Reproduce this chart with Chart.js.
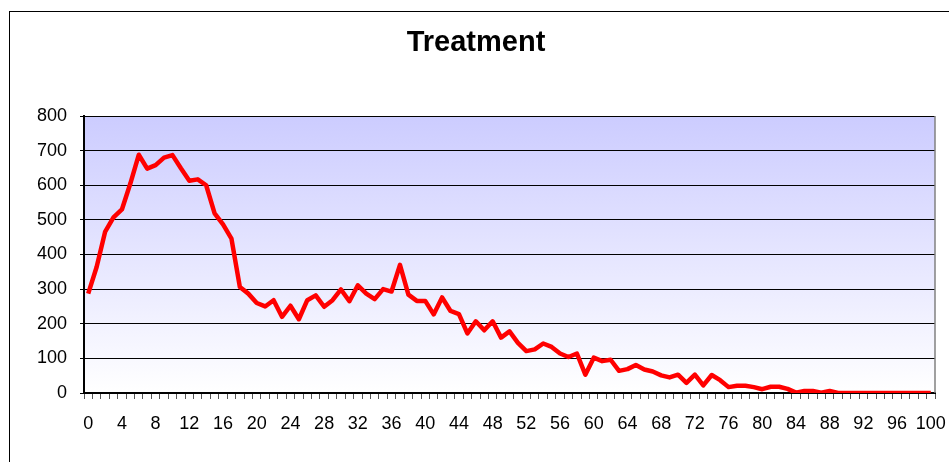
<!DOCTYPE html>
<html>
<head>
<meta charset="utf-8">
<title>Treatment</title>
<script src="https://cdn.jsdelivr.net/npm/chart.js"></script>
<style>
  html, body { margin: 0; padding: 0; background: #fff; overflow: hidden; }
  #frame { position: absolute; left: 9px; top: 11px; width: 1000px; height: 1000px; border: 1px solid #000; }
  #myChart { position: absolute; left: 0; top: 0; }
</style>
</head>
<body>
<div id="frame"></div>
<canvas id="myChart" width="949" height="462"></canvas>
<script>
const ctx = document.getElementById("myChart");

const titulo = "Treatment";

const categorias = [
  "0", "1", "2", "3", "4", "5", "6", "7", "8", "9",
  "10", "11", "12", "13", "14", "15", "16", "17", "18", "19",
  "20", "21", "22", "23", "24", "25", "26", "27", "28", "29",
  "30", "31", "32", "33", "34", "35", "36", "37", "38", "39",
  "40", "41", "42", "43", "44", "45", "46", "47", "48", "49",
  "50", "51", "52", "53", "54", "55", "56", "57", "58", "59",
  "60", "61", "62", "63", "64", "65", "66", "67", "68", "69",
  "70", "71", "72", "73", "74", "75", "76", "77", "78", "79",
  "80", "81", "82", "83", "84", "85", "86", "87", "88", "89",
  "90", "91", "92", "93", "94", "95", "96", "97", "98", "99",
  "100",
];

const valores = [
  287, 364, 465, 507, 530, 605, 688, 648, 658, 680,
  687, 649, 613, 617, 600, 519, 487, 446, 306, 287,
  260, 250, 268, 220, 252, 213, 268, 282, 249, 268,
  299, 265, 311, 287, 271, 300, 293, 370, 284, 266,
  266, 227, 276, 237, 228, 172, 207, 181, 207, 160,
  178, 145, 121, 126, 143, 133, 114, 104, 114, 53,
  102, 92, 96, 64, 69, 81, 68, 62, 51, 45,
  53, 29, 53, 22, 52, 37, 17, 21, 21, 17,
  11, 18, 18, 12, 1, 6, 6, 1, 6, 0,
  0, 0, 0, 0, 0, 0, 0, 0, 0, 0,
  0,
];

// y axis: 0..800 every 100, x labels every 4th category
const yMin = 0;
const yMax = 800;
const yPaso = 100;
const cadaCuantos = 4;

const fuente = "'Liberation Sans', Arial, sans-serif";

// plot area background (gradient), gray right border and the title
const fondo = {
  id: "fondo",
  beforeDraw(chart) {
    const { ctx, chartArea: a } = chart;
    const g = ctx.createLinearGradient(0, a.top, 0, a.bottom);
    g.addColorStop(0, "#ccccff");
    g.addColorStop(1, "#ffffff");
    ctx.save();
    ctx.fillStyle = g;
    ctx.fillRect(a.left, a.top, a.right - a.left, a.bottom - a.top);
    ctx.restore();
  },
  afterDraw(chart) {
    const { ctx, chartArea: a } = chart;
    ctx.save();
    ctx.strokeStyle = "#808080";
    ctx.lineWidth = 1.5;
    ctx.beginPath();
    ctx.moveTo(a.right, a.top);
    ctx.lineTo(a.right, a.bottom);
    ctx.stroke();

    ctx.fillStyle = "#000";
    ctx.font = "bold 29px " + fuente;
    ctx.textAlign = "center";
    ctx.textBaseline = "middle";
    ctx.fillText(titulo, 476, 43);
    ctx.restore();
  },
};

new Chart(ctx, {
  type: "line",
  data: {
    labels: categorias,
    datasets: [
      {
        label: titulo,
        data: valores,
        borderColor: "#ff0000",
        borderWidth: 4.5,
        pointRadius: 0,
        tension: 0,
        borderJoinStyle: "round",
        fill: false,
      },
    ],
  },
  options: {
    responsive: false,
    animation: false,
    layout: { padding: { left: 0, right: 14, top: 116, bottom: 0 } },
    plugins: {
      legend: { display: false },
      tooltip: { enabled: false },
      title: { display: false },
    },
    scales: {
      x: {
        type: "category",
        offset: true,
        grid: {
          offset: true,
          drawOnChartArea: false,
          drawTicks: true,
          tickLength: 6,
          tickColor: "#555",
        },
        border: { display: true, color: "#000", width: 2 },
        ticks: {
          autoSkip: false,
          maxRotation: 0,
          minRotation: 0,
          padding: 14,
          color: "#000",
          font: { family: fuente, size: 18 },
          callback: function (val, i) {
            return i % cadaCuantos === 0 ? this.getLabelForValue(val) : "";
          },
        },
        afterFit(scale) {
          scale.height = 69;
          scale.paddingLeft = 0;
          scale.paddingRight = 0;
        },
      },
      y: {
        min: yMin,
        max: yMax,
        grid: { color: "#000", lineWidth: 1, tickLength: 4 },
        border: { display: true, color: "#000", width: 2 },
        ticks: {
          stepSize: yPaso,
          padding: 13,
          color: "#000",
          font: { family: fuente, size: 18 },
        },
        afterFit(scale) {
          scale.width = 84;
          scale.paddingTop = 0;
          scale.paddingBottom = 0;
        },
      },
    },
  },
  plugins: [fondo],
});
</script>
</body>
</html>
